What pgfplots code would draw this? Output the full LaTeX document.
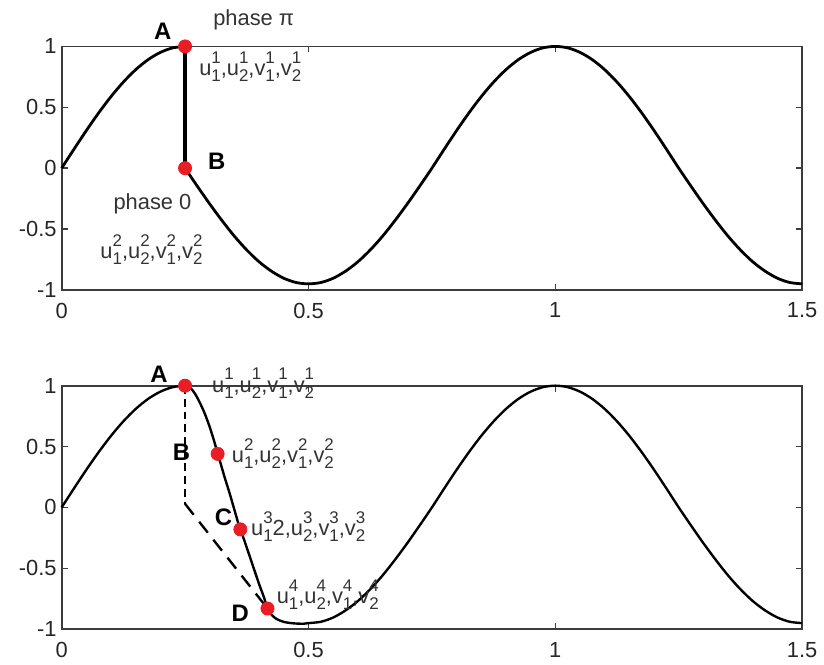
\documentclass[border=0pt]{standalone}
\usepackage{fontspec}
\setmainfont{Liberation Sans}
\usepackage{pgfplots}
\usepackage{pgfplotstable}
\pgfplotsset{compat=1.18}

\definecolor{dotred}{RGB}{232,30,36}
\definecolor{axgray}{RGB}{60,60,60}

% letter with stacked superscript and subscript, set in the text font
\newcommand\uv[3]{#1\rlap{\raisebox{0.55em}{\fontsize{8.5}{8.5}\selectfont #2}}\raisebox{-0.28em}{\fontsize{8.5}{8.5}\selectfont #3}}

% rising quarter wave, 0 <= t <= 0.25
\pgfplotstableread{
x y
0 0
0.025 0.156
0.05 0.309
0.075 0.454
0.1 0.588
0.125 0.707
0.15 0.809
0.175 0.891
0.2 0.951
0.225 0.988
0.25 1
}\rise

% wave restarted at phase 0 after the jump
\pgfplotstableread{
x y
0.25 0
0.275 -0.149
0.3 -0.294
0.325 -0.431
0.35 -0.559
0.375 -0.672
0.4 -0.769
0.425 -0.846
0.45 -0.904
0.475 -0.939
0.5 -0.95
0.525 -0.939
0.55 -0.904
0.575 -0.846
0.6 -0.769
0.625 -0.672
0.65 -0.559
0.675 -0.431
0.7 -0.294
0.725 -0.149
0.75 0
0.775 0.156
0.8 0.309
0.825 0.454
0.85 0.588
0.875 0.707
0.9 0.809
0.925 0.891
0.95 0.951
0.975 0.988
1 1
1.025 0.988
1.05 0.951
1.075 0.891
1.1 0.809
1.125 0.707
1.15 0.588
1.175 0.454
1.2 0.309
1.225 0.156
1.25 0
1.275 -0.149
1.3 -0.294
1.325 -0.431
1.35 -0.559
1.375 -0.672
1.4 -0.769
1.425 -0.846
1.45 -0.904
1.475 -0.939
1.5 -0.95
}\jumpwave

% gradual phase change through A, B, C, D
\pgfplotstableread{
x y
0.25 1
0.26 0.985
0.27 0.935
0.28 0.86
0.29 0.77
0.30 0.66
0.31 0.53
0.316 0.44
0.32 0.39
0.33 0.25
0.34 0.12
0.35 -0.02
0.36 -0.16
0.362 -0.18
0.37 -0.27
0.38 -0.39
0.39 -0.51
0.40 -0.63
0.41 -0.74
0.417 -0.83
0.425 -0.88
0.435 -0.915
0.45 -0.94
0.47 -0.952
0.49 -0.955
0.5 -0.95
0.525 -0.939
0.55 -0.904
0.575 -0.846
0.6 -0.769
0.625 -0.672
0.65 -0.559
0.675 -0.431
0.7 -0.294
0.725 -0.149
0.75 0
0.775 0.156
0.8 0.309
0.825 0.454
0.85 0.588
0.875 0.707
0.9 0.809
0.925 0.891
0.95 0.951
0.975 0.988
1 1
1.025 0.988
1.05 0.951
1.075 0.891
1.1 0.809
1.125 0.707
1.15 0.588
1.175 0.454
1.2 0.309
1.225 0.156
1.25 0
1.275 -0.149
1.3 -0.294
1.325 -0.431
1.35 -0.559
1.375 -0.672
1.4 -0.769
1.425 -0.846
1.45 -0.904
1.475 -0.939
1.5 -0.95
}\gradwave

\tikzset{
  lbl/.style={font=\fontsize{11}{13}\selectfont, text=black!80},
  boldlbl/.style={font=\fontsize{12}{14}\selectfont\bfseries},
}

\pgfplotsset{
  wavepanel/.style={
    scale only axis,
    width=372.5pt, height=122.5pt,
    xmin=0, xmax=1.5, ymin=-1, ymax=1,
    xtick={0,0.5,1,1.5},
    ytick={-1,-0.5,0,0.5,1},
    tick align=inside,
    major tick length=3pt,
    axis line style={axgray, line width=0.9pt},
    tick style={axgray, line width=0.8pt},
    ticklabel style={font=\fontsize{11}{12}\selectfont, text=black!85},
    /pgf/number format/assume math mode=true,
    xticklabel style={yshift=-3pt},
    yticklabel style={xshift=1pt},
    clip=false,
  },
  dot/.style={only marks, mark=*, mark size=3.3pt, dotred, mark options={draw=dotred, fill=dotred}},
}

\begin{document}
\begin{tikzpicture}
% invisible frame giving the page its margins
\path (-31pt,23.35pt) rectangle (381pt,-308.65pt);

\begin{axis}[wavepanel, name=top, at={(0,0)}, anchor=north west]
  \addplot[black, line width=1.4pt, smooth] table[x=x, y=y] {\rise};
  \addplot[black, line width=2.4pt] coordinates {(0.25,1) (0.25,0)};
  \addplot[black, line width=1.4pt, smooth] table[x=x, y=y] {\jumpwave};
  \addplot[dot] coordinates {(0.25,1) (0.25,0)};
  \node[boldlbl] at (axis cs:0.205,1.128) {A};
  \node[boldlbl] at (axis cs:0.314,0.056) {B};
  \node[lbl] at (axis cs:0.389,1.218) {phase π};
  \node[lbl, anchor=west, inner sep=0pt] at (axis cs:0.278,0.834)
    {\uv{u}{1}{1},\uv{u}{1}{2},\uv{v}{1}{1},\uv{v}{1}{2}};
  \node[lbl] at (axis cs:0.184,-0.295) {phase 0};
  \node[lbl] at (axis cs:0.182,-0.670)
    {\uv{u}{2}{1},\uv{u}{2}{2},\uv{v}{2}{1},\uv{v}{2}{2}};
\end{axis}

\begin{axis}[wavepanel, name=bottom, at={(0,-170.65pt)}, anchor=north west]
  \addplot[black, line width=1.2pt, smooth] table[x=x, y=y] {\rise};
  \addplot[black, line width=1.2pt, smooth] table[x=x, y=y] {\gradwave};
  \addplot[black, line width=1.1pt, dash pattern=on 4pt off 2.5pt] coordinates {(0.25,1) (0.25,0.03)};
  \addplot[black, line width=1.2pt, dash pattern=on 7pt off 4.5pt] coordinates {(0.25,0.03) (0.417,-0.83)};
  \addplot[dot] coordinates {(0.25,1) (0.316,0.44) (0.362,-0.18) (0.417,-0.83)};
  \node[boldlbl] at (axis cs:0.197,1.09) {A};
  \node[boldlbl] at (axis cs:0.243,0.453) {B};
  \node[boldlbl] at (axis cs:0.328,-0.078) {C};
  \node[boldlbl] at (axis cs:0.362,-0.869) {D};
  \node[lbl, anchor=west, inner sep=0pt] at (axis cs:0.304,1.02)
    {\uv{u}{1}{1},\uv{u}{1}{2},\uv{v}{1}{1},\uv{v}{1}{2}};
  \node[lbl, anchor=west, inner sep=0pt] at (axis cs:0.344,0.445)
    {\uv{u}{2}{1},\uv{u}{2}{2},\uv{v}{2}{1},\uv{v}{2}{2}};
  \node[lbl, anchor=west, inner sep=0pt] at (axis cs:0.383,-0.159)
    {\uv{u}{3}{1}2,\uv{u}{3}{2},\uv{v}{3}{1},\uv{v}{3}{2}};
  \node[lbl, anchor=west, inner sep=0pt] at (axis cs:0.435,-0.714)
    {\uv{u}{4}{1},\uv{u}{4}{2},\uv{v}{4}{1},\uv{v}{4}{2}};
\end{axis}
\end{tikzpicture}
\end{document}
